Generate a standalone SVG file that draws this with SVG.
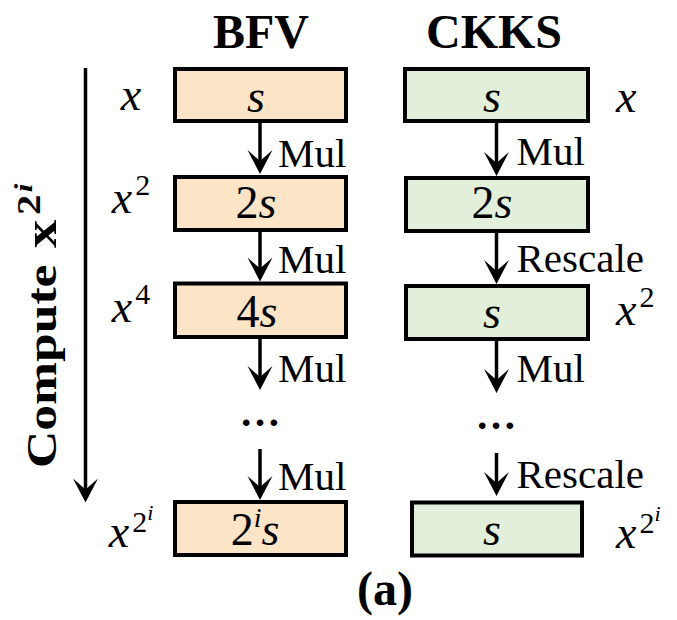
<svg xmlns="http://www.w3.org/2000/svg" width="677" height="620" viewBox="0 0 677 620">
<style>
.title{font-family:"Liberation Serif","Times New Roman",serif;font-weight:bold;font-size:48px;text-anchor:middle;fill:#000}
.op{font-family:"Liberation Serif","Times New Roman",serif;font-size:41px;fill:#000}
.m{font-family:"Liberation Serif","Times New Roman",serif;font-size:46px;font-style:italic;fill:#000}
.c{text-anchor:middle}
.d{font-style:normal}
.bfv{fill:#FCE4C6;stroke:#000;stroke-width:4}
.ckks{fill:#E2EFDA;stroke:#000;stroke-width:4}
.arr{stroke:#000;stroke-width:3.5;fill:none;marker-end:url(#ah)}
</style>
<defs>
<marker id="ah" markerUnits="userSpaceOnUse" markerWidth="40" markerHeight="40" refX="0" refY="0" orient="auto" overflow="visible">
<path d="M12,0 L-12,-12.5 L-1,0 L-12,12.5 Z" fill="#000"/>
</marker>
</defs>
<rect width="677" height="620" fill="#fff"/>

<g id="titles">
<text class="title" x="261" y="47.5">BFV</text>
<text class="title" x="494" y="47.5">CKKS</text>
</g>

<g id="compute-axis">
<text transform="translate(56,468) rotate(-90) scale(1.2,1)" font-family="Liberation Serif, Times New Roman, serif" font-weight="bold" font-size="43">Compute <tspan dx="3" font-size="47">x</tspan><tspan font-size="34" dx="4" dy="-16">2</tspan><tspan font-size="26" font-style="italic" dx="2" dy="-8">i</tspan></text>
</g>

<g id="bfv-x1"><rect class="bfv" x="175" y="69" width="171" height="52"/><text class="m c" x="256" y="111.5">s</text></g>
<g id="bfv-x2"><rect class="bfv" x="175" y="177" width="171" height="53"/><text class="m c" x="256" y="218"><tspan class="d">2</tspan>s</text></g>
<g id="bfv-x4"><rect class="bfv" x="175" y="283.5" width="171" height="53.5"/><text class="m c" x="257" y="326.5"><tspan class="d">4</tspan>s</text></g>
<g id="bfv-x2i"><rect class="bfv" x="175" y="502" width="171" height="53"/><text class="m c" x="255" y="545"><tspan class="d">2</tspan><tspan font-size="28" dy="-18">i</tspan><tspan dy="18">s</tspan></text></g>

<g id="ckks-x1"><rect class="ckks" x="405" y="69" width="183" height="52"/><text class="m c" x="492" y="111.5">s</text></g>
<g id="ckks-x2"><rect class="ckks" x="406" y="178" width="182" height="53"/><text class="m c" x="492" y="218"><tspan class="d">2</tspan>s</text></g>
<g id="ckks-x2b"><rect class="ckks" x="406" y="286" width="182" height="53"/><text class="m c" x="492" y="328">s</text></g>
<g id="ckks-x2i"><rect class="ckks" x="412" y="502.5" width="170" height="53"/><text class="m c" x="492" y="545">s</text></g>

<g id="connectors">
<line class="arr" x1="85.5" y1="68" x2="85.5" y2="490.5"/>
<line class="arr" x1="260" y1="123" x2="260" y2="162"/>
<line class="arr" x1="260" y1="231.5" x2="260" y2="269.5"/>
<line class="arr" x1="260" y1="339" x2="260" y2="378"/>
<line class="arr" x1="260" y1="449" x2="260" y2="488"/>
<line class="arr" x1="496.5" y1="123" x2="496.5" y2="164"/>
<line class="arr" x1="496.5" y1="232.5" x2="496.5" y2="272"/>
<line class="arr" x1="496.5" y1="340.5" x2="496.5" y2="381"/>
<line class="arr" x1="496.5" y1="453" x2="496.5" y2="484"/>
</g>

<g id="op-labels">
<text class="op" x="278" y="166.5">Mul</text>
<text class="op" x="278" y="273">Mul</text>
<text class="op" x="278" y="381.5">Mul</text>
<text class="op" x="278" y="490">Mul</text>
<text class="op" x="516.5" y="165">Mul</text>
<text class="op" x="516.5" y="272">Rescale</text>
<text class="op" x="516.5" y="381.5">Mul</text>
<text class="op" x="516.5" y="488">Rescale</text>
<text class="op" x="260" y="425.5" font-size="48" font-weight="bold" text-anchor="middle">…</text>
<text class="op" x="496" y="428.5" font-size="48" font-weight="bold" text-anchor="middle">…</text>
</g>

<g id="power-labels">
<text class="m c" x="131" y="110">x</text>
<text class="m c" x="131" y="213"><tspan>x</tspan><tspan class="d" font-size="30" dx="3" dy="-18">2</tspan></text>
<text class="m c" x="131" y="321.5"><tspan>x</tspan><tspan class="d" font-size="30" dx="3" dy="-18">4</tspan></text>
<text class="m c" x="131" y="546.5"><tspan>x</tspan><tspan class="d" font-size="30" dx="3" dy="-15">2</tspan><tspan font-size="22" dy="-12">i</tspan></text>
<text class="m" x="616" y="111.5">x</text>
<text class="m" x="616" y="325"><tspan>x</tspan><tspan class="d" font-size="30" dx="3" dy="-18">2</tspan></text>
<text class="m" x="616" y="548"><tspan>x</tspan><tspan class="d" font-size="30" dx="3" dy="-15">2</tspan><tspan font-size="22" dy="-12">i</tspan></text>
</g>

<g id="caption">
<text class="title" x="385" y="605" font-size="42">(a)</text>
</g>
</svg>
